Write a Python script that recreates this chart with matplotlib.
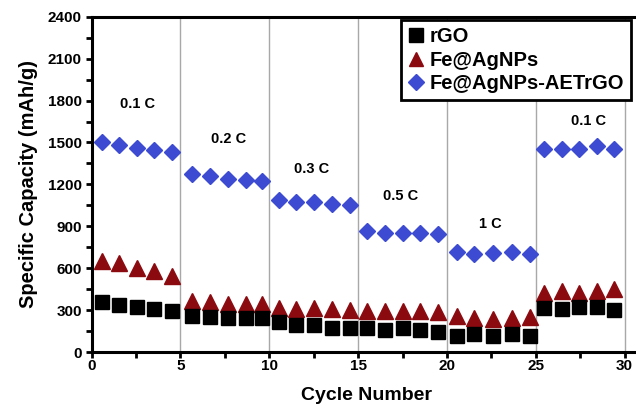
import matplotlib
matplotlib.use("Agg")
import matplotlib.pyplot as plt
from matplotlib.ticker import MultipleLocator

plt.rcParams['font.family'] = ['Liberation Sans', 'DejaVu Sans']
plt.rcParams['font.weight'] = 'bold'

cycle = [0.57, 1.56, 2.54, 3.53, 4.55,
         5.67, 6.67, 7.66, 8.68, 9.61,
         10.55, 11.51, 12.52, 13.52, 14.55,
         15.52, 16.52, 17.52, 18.49, 19.49,
         20.56, 21.55, 22.62, 23.67, 24.68,
         25.49, 26.47, 27.46, 28.44, 29.41]

rgo = [356, 337, 320, 308, 296,
       260, 248, 241, 241, 241,
       212, 195, 195, 176, 176,
       171, 159, 176, 157, 144,
       116, 128, 116, 132, 116,
       315, 308, 320, 320, 301]

fe_agnps = [655, 635, 600, 578, 545,
            368, 362, 347, 347, 347,
            318, 306, 316, 306, 299,
            296, 296, 296, 294, 290,
            258, 246, 234, 246, 250,
            426, 438, 426, 438, 450]

fe_agnps_aetrgo = [1500, 1481, 1459, 1447, 1433,
                   1276, 1259, 1240, 1235, 1228,
                   1086, 1074, 1072, 1062, 1050,
                   867, 855, 850, 850, 843,
                   718, 701, 706, 713, 701,
                   1457, 1457, 1452, 1476, 1457]

series_names = ["rGO", "Fe@AgNPs", "Fe@AgNPs-AETrGO"]

rate_labels = ["0.1 C", "0.2 C", "0.3 C", "0.5 C", "1 C", "0.1 C"]
rate_x = [2.6, 7.7, 12.4, 17.4, 22.45, 27.95]
rate_y = [1776, 1523, 1307, 1119, 917, 1653]

yticks = [0, 300, 600, 900, 1200, 1500, 1800, 2100, 2400]
xticks = [0, 5, 10, 15, 20, 25, 30]
grid_x = [5, 10, 15, 20, 25, 30]

fig = plt.figure(figsize=(6.36, 4.08), dpi=100)
ax = fig.add_axes([0.144, 0.137, 0.866, 0.822])

for gx in grid_x:
    ax.axvline(gx, color='#a8a8a8', lw=1.0, zorder=0)

ax.plot(cycle, fe_agnps_aetrgo, linestyle='none', marker='D', ms=8.2,
        color='#3c4bd2', mec='#3c4bd2', label=series_names[2], zorder=3)
ax.plot(cycle, fe_agnps, linestyle='none', marker='^', ms=11,
        color='#8b0a0f', mec='#8b0a0f', label=series_names[1], zorder=3)
ax.plot(cycle, rgo, linestyle='none', marker='s', ms=10.5,
        color='black', mec='black', label=series_names[0], zorder=4)

for t, x, y in zip(rate_labels, rate_x, rate_y):
    ax.text(x, y, t, ha='center', va='center', fontsize=10.5, fontweight='bold')

ax.set_xlim(0, 31)
ax.set_ylim(0, 2400)
ax.set_xticks(xticks)
ax.set_yticks(yticks)
ax.xaxis.set_minor_locator(MultipleLocator(2.5))
ax.yaxis.set_minor_locator(MultipleLocator(150))
ax.tick_params(axis='both', which='both', direction='out', width=2, length=4,
               labelsize=11)
ax.tick_params(axis='x', pad=1)
ax.tick_params(axis='y', pad=3)
for lab in ax.get_xticklabels() + ax.get_yticklabels():
    lab.set_fontweight('bold')

for s in ['left', 'bottom', 'top', 'right']:
    ax.spines[s].set_linewidth(2.2)

ax.set_xlabel("Cycle Number", fontsize=14, fontweight='bold', labelpad=10)
ax.set_ylabel("Specific Capacity (mAh/g)", fontsize=14.5, fontweight='bold', labelpad=7)

handles, labels = ax.get_legend_handles_labels()
order = [2, 1, 0]
leg = ax.legend([handles[i] for i in order], [labels[i] for i in order],
                loc='upper right', bbox_to_anchor=(0.98, 0.99),
                prop={'weight': 'bold', 'size': 14.5},
                frameon=True, fancybox=False, edgecolor='black',
                handlelength=0.8, handletextpad=0.3, labelspacing=0.22,
                borderpad=0.35, borderaxespad=0.0, markerscale=0.95)
leg.get_frame().set_linewidth(2)
leg.get_frame().set_alpha(1)

fig.savefig("out.png", dpi=100)
